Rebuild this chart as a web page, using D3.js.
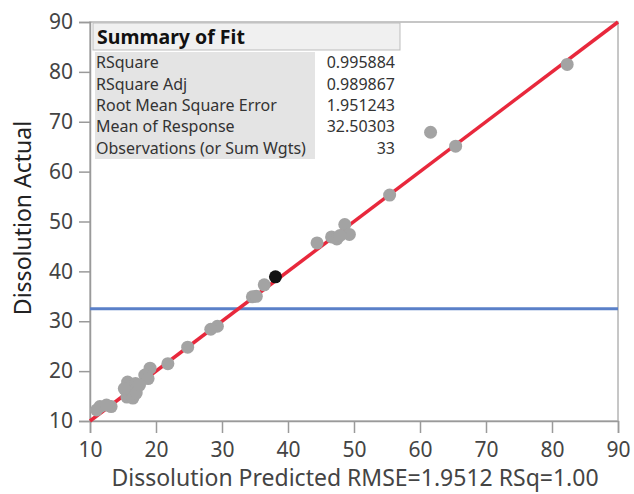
<!DOCTYPE html>
<html>
<head>
<meta charset="utf-8">
<script src="https://cdn.jsdelivr.net/npm/d3@7"></script>
<style>
  body { margin: 0; background: #fff; }
  svg { display: block; font-family: "Noto Sans", "Open Sans", sans-serif; }
</style>
</head>
<body>
<svg width="634" height="494"></svg>
<script>
// data
var predicted = [82.3, 61.6, 65.4, 55.4, 44.4, 46.6, 47.4, 48.6, 49.3, 47.9,
                 38.1, 36.4, 34.6, 35.2, 29.3, 28.3, 24.8, 21.8, 19.1, 18.3,
                 18.8, 15.7, 16.9, 16.8, 15.6, 16.5, 17.0, 13.2, 11.5, 11.0,
                 15.2, 17.5, 12.5];
var actual = [81.5, 67.9, 65.1, 55.3, 45.7, 46.9, 46.5, 49.4, 47.4, 47.2,
              38.9, 37.3, 34.9, 35.0, 29.0, 28.4, 24.8, 21.5, 20.6, 19.2,
              18.5, 17.8, 17.5, 16.2, 14.8, 14.6, 15.6, 12.9, 12.9, 12.2,
              16.5, 17.2, 13.2];
var highlighted = 10; // index of the black point
var meanResponse = 32.50303;
var ticks = [10, 20, 30, 40, 50, 60, 70, 80, 90];

var fitLabels = ["RSquare", "RSquare Adj", "Root Mean Square Error", "Mean of Response", "Observations (or Sum Wgts)"];
var fitValues = ["0.995884", "0.989867", "1.951243", "32.50303", "33"];

var svg = d3.select("svg");

var x = d3.scaleLinear().domain([10, 90]).range([90, 618]);
var y = d3.scaleLinear().domain([10, 90]).range([421, 22]);

// frame
svg.append("rect")
  .attr("x", 90).attr("y", 22)
  .attr("width", 528).attr("height", 399)
  .attr("fill", "none")
  .attr("stroke", "#b4b4b4")
  .attr("stroke-width", 1.5);

// axes
var xAxis = svg.append("g")
  .attr("transform", "translate(0,421)")
  .call(d3.axisBottom(x).tickValues(ticks).tickSize(12).tickPadding(9));
var yAxis = svg.append("g")
  .attr("transform", "translate(90,0)")
  .call(d3.axisLeft(y).tickValues(ticks).tickSize(11).tickPadding(6));

[xAxis, yAxis].forEach(function(a) {
  a.select(".domain").attr("stroke", "#9a9a9a").attr("stroke-width", 1.5);
  a.selectAll(".tick line").attr("stroke", "#9a9a9a").attr("stroke-width", 1.5);
  a.selectAll(".tick text")
    .attr("fill", "#444")
    .style("font-size", "21px")
    .style("font-family", "'Noto Sans', sans-serif");
});

// axis titles
svg.append("text")
  .attr("x", 355).attr("y", 486)
  .attr("text-anchor", "middle")
  .attr("fill", "#444")
  .style("font-size", "23px")
  .text("Dissolution Predicted RMSE=1.9512 RSq=1.00");

svg.append("text")
  .attr("transform", "translate(31,218) rotate(-90)")
  .attr("text-anchor", "middle")
  .attr("fill", "#222")
  .style("font-size", "23px")
  .text("Dissolution Actual");

// mean line
svg.append("line")
  .attr("x1", x(10)).attr("x2", x(90))
  .attr("y1", y(meanResponse)).attr("y2", y(meanResponse))
  .attr("stroke", "#5a80c8")
  .attr("stroke-width", 3);

// fit line
svg.append("line")
  .attr("x1", x(10)).attr("y1", y(10))
  .attr("x2", x(90)).attr("y2", y(90))
  .attr("stroke", "#e8283c")
  .attr("stroke-width", 3.5);

// points
svg.append("g")
  .selectAll("circle")
  .data(predicted)
  .enter()
  .append("circle")
  .attr("cx", function(d) { return x(d); })
  .attr("cy", function(d, i) { return y(actual[i]); })
  .attr("r", 6.5)
  .attr("fill", function(d, i) { return i === highlighted ? "#111" : "#a3a3a3"; });

// summary table
var tbl = svg.append("g");
tbl.append("rect")
  .attr("x", 93).attr("y", 23)
  .attr("width", 307).attr("height", 27)
  .attr("fill", "#f0f0f0")
  .attr("stroke", "#bdbdbd");
tbl.append("text")
  .attr("x", 97).attr("y", 44)
  .attr("fill", "#111")
  .style("font-size", "19.5px")
  .style("font-weight", "bold")
  .text("Summary of Fit");
tbl.append("rect")
  .attr("x", 95).attr("y", 52)
  .attr("width", 220).attr("height", 107)
  .attr("fill", "#e4e4e4");
tbl.append("rect")
  .attr("x", 315).attr("y", 52)
  .attr("width", 85).attr("height", 107)
  .attr("fill", "#fff");

var rowY = d3.scaleBand().domain(d3.range(fitLabels.length)).range([52, 159]);

tbl.selectAll(".lab")
  .data(fitLabels)
  .enter()
  .append("text")
  .attr("class", "lab")
  .attr("x", 96)
  .attr("y", function(d, i) { return rowY(i) + rowY.bandwidth() / 2 + 5.5; })
  .attr("fill", "#333")
  .style("font-size", "16px")
  .text(function(d) { return d; });

tbl.selectAll(".val")
  .data(fitValues)
  .enter()
  .append("text")
  .attr("class", "val")
  .attr("x", 395)
  .attr("text-anchor", "end")
  .attr("y", function(d, i) { return rowY(i) + rowY.bandwidth() / 2 + 5.5; })
  .attr("fill", "#333")
  .style("font-size", "16px")
  .text(function(d) { return d; });
</script>
</body>
</html>
